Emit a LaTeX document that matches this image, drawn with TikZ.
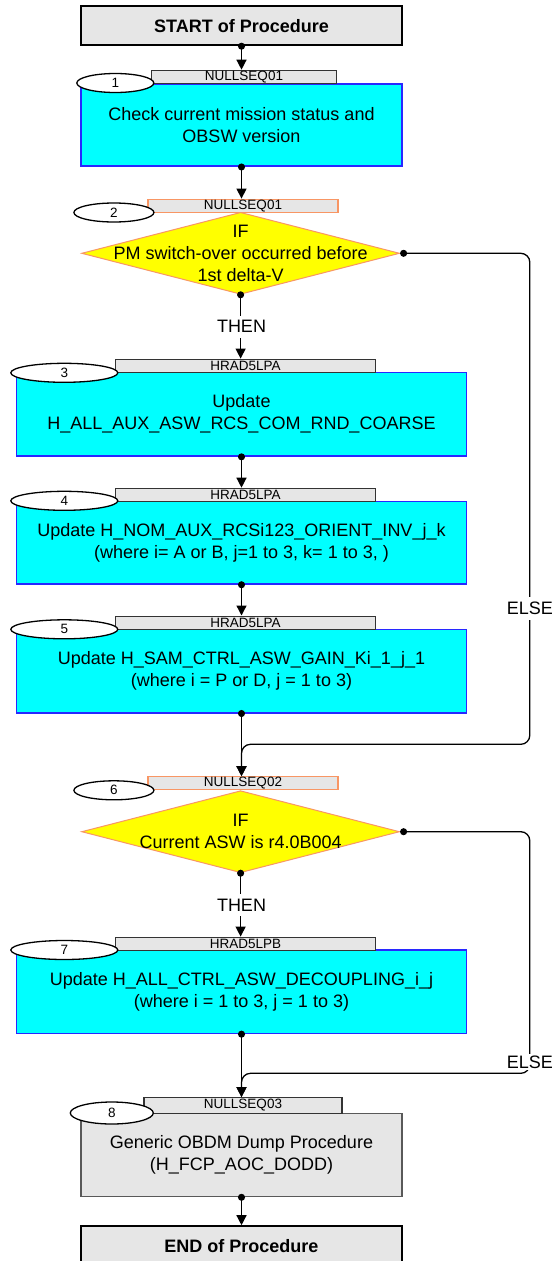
\documentclass[tikz,border=0pt]{standalone}
\usepackage{fontspec}
\setmainfont{Liberation Sans}
\usetikzlibrary{arrows.meta,shapes.geometric}

\definecolor{procgray}{RGB}{230,230,230}
\definecolor{stepcyan}{RGB}{0,255,255}
\definecolor{stepblue}{RGB}{40,40,255}
\definecolor{ifyellow}{RGB}{255,255,0}
\definecolor{iforange}{RGB}{248,150,100}

\tikzset{
  bigtext/.style={font=\fontsize{18}{22}\selectfont},
  tagtext/.style={font=\fontsize{13.5}{15}\selectfont},
  endpoint/.style={draw=black,line width=2pt,fill=procgray,minimum width=321pt,minimum height=39pt,inner sep=0pt,font=\fontsize{18}{22}\selectfont\bfseries},
  stepbox/.style={draw=stepblue,line width=1.6pt,fill=stepcyan,inner sep=0pt,align=center,bigtext},
  callbox/.style={draw=black!65,line width=1.2pt,fill=procgray,inner sep=0pt,align=center,bigtext},
  tagbar/.style={draw=black!80,line width=1.2pt,fill=procgray,minimum height=13pt,inner sep=0pt,tagtext},
  nulltag/.style={tagbar,draw=iforange},
  numoval/.style={ellipse,draw=black,line width=1.3pt,fill=white,minimum height=19pt,inner sep=0pt,tagtext},
  ifbox/.style={diamond,draw=iforange,line width=1pt,fill=ifyellow,minimum width=318pt,minimum height=82pt,inner sep=0pt},
  flow/.style={line width=1.3pt,{Circle[length=7pt]}-{Triangle[length=10pt,width=10pt]},shorten <=-3.5pt},
  elseline/.style={flow,shorten <=0pt,rounded corners=9pt},
  branch/.style={fill=white,inner sep=5pt,bigtext}
}

\begin{document}
\begin{tikzpicture}[x=1pt,y=-1pt]
\useasboundingbox (0,0) rectangle (552,1261);

% start
\node[endpoint] (start) at (241.5,25.7) {START of Procedure};

% step 1
\node[stepbox,minimum width=321pt,minimum height=82pt] (s1) at (241.5,125.2) {Check current mission status and\\OBSW version};
\node[tagbar,minimum width=185pt] (t1) at (244,76.8) {NULLSEQ01};
\node[numoval,minimum width=77pt] (n1) at (115.3,83) {1};

% step 2
\node[ifbox] (s2) at (240.6,253.3) {};
\node[align=center,bigtext] (s2txt) at (s2) {IF\\PM switch-over occurred before\\1st delta-V};
\node[nulltag,minimum width=190pt] (t2) at (243,205.7) {NULLSEQ01};
\node[numoval,minimum width=80pt] (n2) at (113.9,212.5) {2};

% step 3
\node[stepbox,minimum width=450pt,minimum height=83.7pt] (s3) at (241.5,414.2) {Update\\H\_ALL\_AUX\_ASW\_RCS\_COM\_RND\_COARSE};
\node[tagbar,minimum width=260pt] (t3) at (245.4,365.7) {HRAD5LPA};
\node[numoval,minimum width=107pt] (n3) at (64.3,372.8) {3};

% step 4
\node[stepbox,minimum width=450pt,minimum height=82.3pt] (s4) at (241.5,542.8) {Update H\_NOM\_AUX\_RCSi123\_ORIENT\_INV\_j\_k\\(where i= A or B, j=1 to 3, k= 1 to 3, )};
\node[tagbar,minimum width=260pt] (t4) at (245.4,494.8) {HRAD5LPA};
\node[numoval,minimum width=107pt] (n4) at (64.3,500.8) {4};

% step 5
\node[stepbox,minimum width=450pt,minimum height=83.4pt] (s5) at (241.5,671) {Update H\_SAM\_CTRL\_ASW\_GAIN\_Ki\_1\_j\_1\\(where i = P or D, j = 1 to 3)};
\node[tagbar,minimum width=260pt] (t5) at (245.4,622.6) {HRAD5LPA};
\node[numoval,minimum width=107pt] (n5) at (64.3,629.3) {5};

% step 6
\node[ifbox] (s6) at (240.6,831.7) {};
\node[align=center,bigtext] (s6txt) at (s6) {IF\\Current ASW is r4.0B004};
\node[nulltag,minimum width=190pt] (t6) at (243,783.3) {NULLSEQ02};
\node[numoval,minimum width=80pt] (n6) at (113.9,790.3) {6};

% step 7
\node[stepbox,minimum width=450pt,minimum height=83.3pt] (s7) at (241.5,991.7) {Update H\_ALL\_CTRL\_ASW\_DECOUPLING\_i\_j\\(where i = 1 to 3, j = 1 to 3)};
\node[tagbar,minimum width=260pt] (t7) at (245.4,943.7) {HRAD5LPB};
\node[numoval,minimum width=107pt] (n7) at (64.3,950) {7};

% step 8
\node[callbox,minimum width=321pt,minimum height=83.4pt] (s8) at (241.5,1155) {Generic OBDM Dump Procedure\\(H\_FCP\_AOC\_DODD)};
\node[tagbar,minimum width=198pt,minimum height=15.6pt] (t8) at (243,1105.5) {NULLSEQ03};
\node[numoval,minimum width=83pt,minimum height=22pt] (n8) at (111.8,1113) {8};

% end
\node[endpoint] (stop) at (241.5,1245.7) {END of Procedure};

% connectors
\draw[flow] (start.south) -- (start.south |- t1.north);
\draw[flow] (s1.south) -- (s1.south |- t2.north);
\draw[flow] (s2.south) -- (s2.south |- t3.north);
\draw[flow] (s3.south) -- (s3.south |- t4.north);
\draw[flow] (s4.south) -- (s4.south |- t5.north);
\draw[flow] (s5.south) -- (s5.south |- t6.north);
\coordinate (r2) at (529.8,744.3);
\coordinate (j2) at (241.5,744.3);
\draw[elseline] (s2.east) -| (r2) -- (j2) -- (j2 |- t6.north);
\draw[flow] (s6.south) -- (s6.south |- t7.north);
\draw[flow] (s7.south) -- (s7.south |- t8.north);
\coordinate (r6) at (529.8,1073.3);
\coordinate (j6) at (241.5,1073.3);
\draw[elseline] (s6.east) -| (r6) -- (j6) -- (j6 |- t8.north);
\draw[flow] (s8.south) -- (s8.south |- stop.north);

% branch labels
\node[branch] (then2) at (241.5,326.7) {THEN};
\node[branch] (else2) at (529.8,608.3) {ELSE};
\node[branch] (then6) at (241.5,905) {THEN};
\node[branch,inner sep=2pt] (else6) at (529.8,1062) {ELSE};
\end{tikzpicture}
\end{document}
